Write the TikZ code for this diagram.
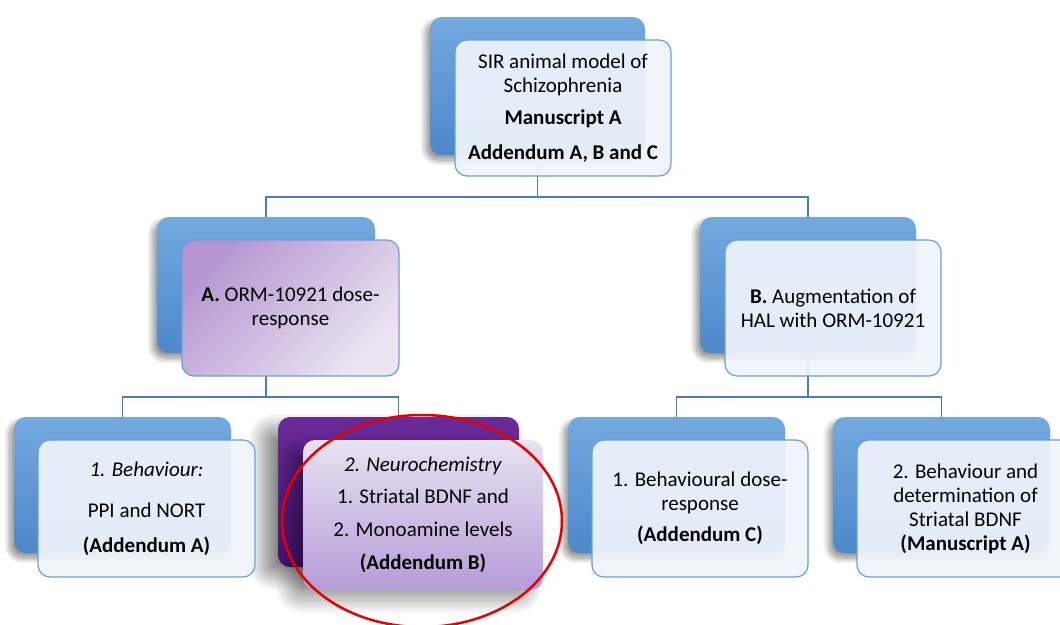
\documentclass[tikz,border=0pt]{standalone}
\usepackage{fontspec}
\setmainfont{Carlito}
\usetikzlibrary{shadows.blur}

\definecolor{bluetop}{HTML}{72A9DF}
\definecolor{bluebot}{HTML}{4D88CB}
\definecolor{frontline}{HTML}{6A9ED8}
\definecolor{frontfill}{HTML}{EFF4FB}
\definecolor{purpledark}{HTML}{B596D2}
\definecolor{purplelight}{HTML}{EBE5F2}
\definecolor{neurotop}{HTML}{E8E2F1}
\definecolor{neurobot}{HTML}{B59CD8}
\definecolor{deeptop}{HTML}{6A2B9A}
\definecolor{deepbot}{HTML}{4A1478}
\definecolor{connblue}{HTML}{4A7EBB}
\definecolor{ringred}{HTML}{E60000}

\tikzset{
  backbox/.style={rounded corners=12pt, inner sep=0pt, draw=none,
    top color=bluetop, bottom color=bluebot,
    blur shadow={shadow xshift=-4pt, shadow yshift=-5pt, shadow blur radius=6pt,
      shadow opacity=45, shadow blur steps=12}},
  deepbox/.style={rounded corners=12pt, inner sep=0pt, draw=none,
    top color=deeptop, bottom color=deepbot,
    blur shadow={shadow xshift=-16pt, shadow yshift=-10pt, shadow blur radius=14pt,
      shadow opacity=45, shadow blur steps=30}},
  frontbox/.style={rounded corners=12pt, inner sep=4pt, draw=frontline, line width=1.2pt,
    fill=frontfill, fill opacity=0.93, text opacity=1, align=center,
    font=\fontsize{21}{24}\selectfont},
  purplebox/.style={frontbox, fill=none, fill opacity=1,
    left color=purpledark, right color=purplelight, shading angle=45},
  neurobox/.style={frontbox, draw=none, fill=none, fill opacity=1,
    top color=neurotop, bottom color=neurobot,
    blur shadow={shadow xshift=-14pt, shadow yshift=-10pt, shadow blur radius=14pt,
      shadow opacity=40, shadow blur steps=30}},
  conn/.style={draw=connblue, line width=1.5pt},
  ring/.style={draw=ringred, line width=2.5pt}
}

\begin{document}
\begin{tikzpicture}[x=1pt,y=-1pt]
\useasboundingbox (0,0) rectangle (1060,624);

% back panels
\node[backbox, minimum width=215pt, minimum height=138pt] (topback) at (537.5,86) {};
\node[backbox, minimum width=218pt, minimum height=136pt] (Aback) at (266,285) {};
\node[backbox, minimum width=216pt, minimum height=136pt] (Bback) at (808,285) {};
\node[backbox, minimum width=217pt, minimum height=136pt] (oneback) at (122.5,485) {};
\node[deepbox, minimum width=241pt, minimum height=150pt] (twoback) at (398.5,492) {};
\node[backbox, minimum width=217pt, minimum height=136pt] (threeback) at (676.5,485) {};
\node[backbox, minimum width=217pt, minimum height=136pt] (fourback) at (941.5,485) {};

% tree connectors
\draw[conn] (topback.south) -- ++(0,42) -| (Aback.north);
\draw[conn] (topback.south) -- ++(0,42) -| (Bback.north);
\draw[conn] (Aback.south) -- ++(0,44) -| (oneback.north);
\draw[conn] (Aback.south) -- ++(0,44) -| (twoback.north);
\draw[conn] (Bback.south) -- ++(0,44) -| (threeback.north);
\draw[conn] (Bback.south) -- ++(0,44) -| (fourback.north);

% front panels with text
\node[frontbox, minimum width=216pt, minimum height=136pt] (topfront) at (563,108)
  {SIR animal model of\\Schizophrenia\\[8pt]\textbf{Manuscript A}\\[11pt]\textbf{Addendum A, B and C}};
\node[purplebox, minimum width=217pt, minimum height=136pt] (Afront) at (290.5,308)
  {\textbf{A.} ORM-10921 dose-\\response};
\node[frontbox, minimum width=216pt, minimum height=136pt] (Bfront) at (833,308)
  {\textbf{B.} Augmentation of\\HAL with ORM-10921};
\node[frontbox, minimum width=217pt, minimum height=137pt] (onefront) at (146.5,508.5)
  {\textit{1. Behaviour:}\\[17pt]PPI and NORT\\[11pt]\textbf{(Addendum A)}};
\node[neurobox, minimum width=240pt, minimum height=150pt] (twofront) at (423,515)
  {\textit{2. Neurochemistry}\\[8pt]1. Striatal BDNF and\\[9pt]2. Monoamine levels\\[9pt]\textbf{(Addendum B)}};
\node[frontbox, minimum width=216pt, minimum height=137pt] (threefront) at (700,508.5)
  {1. Behavioural dose-\\response\\[7pt]\textbf{(Addendum C)}};
\node[frontbox, minimum width=217pt, minimum height=137pt] (fourfront) at (965.5,508.5)
  {2. Behaviour and\\determination of\\Striatal BDNF\\\textbf{(Manuscript A)}};

% highlight ring
\draw[ring] (twofront.center) ++(-1,6) ellipse [x radius=140, y radius=106];
\end{tikzpicture}
\end{document}
